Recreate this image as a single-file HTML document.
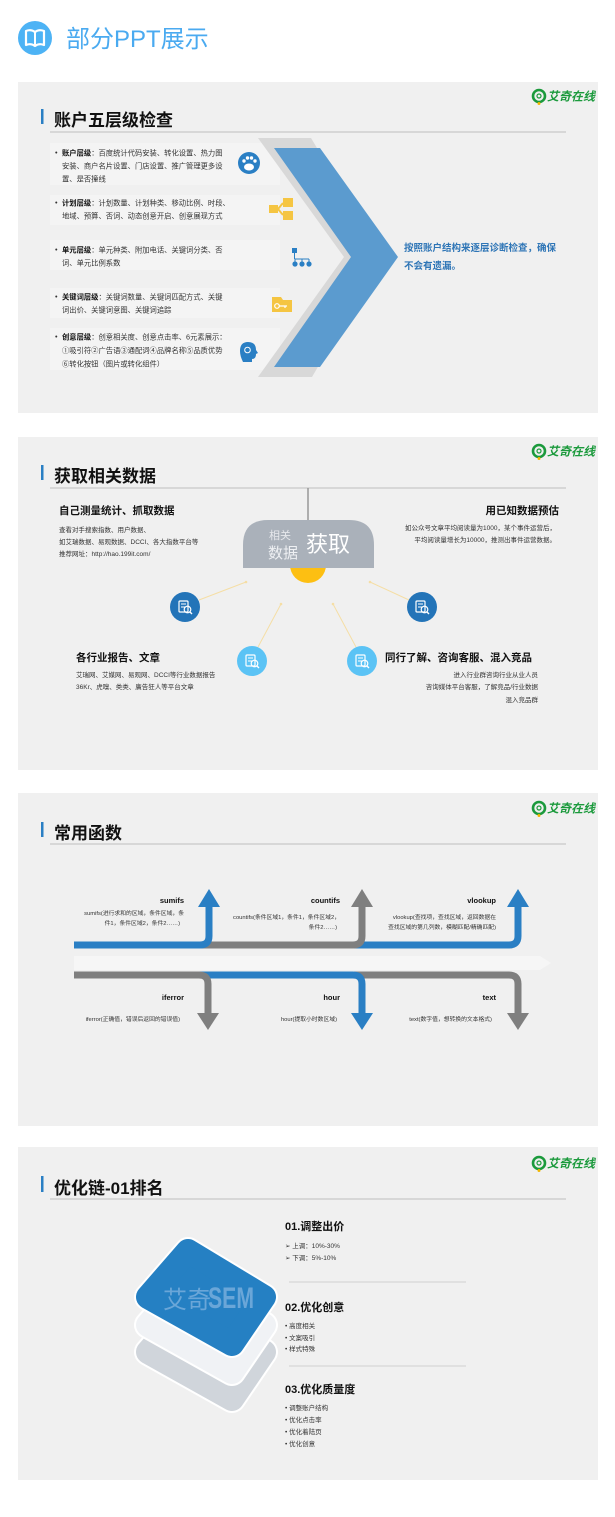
<!DOCTYPE html>
<html><head><meta charset="utf-8"><style>
html,body{margin:0;padding:0;background:#fff;}
svg{display:block;}
text{font-family:"Liberation Sans","Noto Sans CJK SC",sans-serif;}
</style></head><body>
<svg width="615" height="1517" viewBox="0 0 615 1517" xmlns="http://www.w3.org/2000/svg">
<defs>
<g id="logo">
<circle cx="0" cy="0" r="6" fill="none" stroke="#1b9a3c" stroke-width="2.6"/>
<circle cx="0" cy="0" r="2" fill="none" stroke="#1b9a3c" stroke-width="1.2"/>
<circle cx="0" cy="7.5" r="1.5" fill="#f2b600"/>
<text x="8" y="4.5" font-size="12" font-weight="bold" font-style="italic" fill="#1b9a3c">艾奇在线</text>
</g>
<g id="mag">
<rect x="-6" y="-6" width="9" height="11" rx="1" fill="none" stroke="#fff" stroke-width="1.2"/>
<line x1="-4" y1="-3" x2="1" y2="-3" stroke="#fff" stroke-width="1"/>
<line x1="-4" y1="0" x2="0" y2="0" stroke="#fff" stroke-width="1"/>
<circle cx="2.5" cy="2.5" r="3.3" fill="none" stroke="#fff" stroke-width="1.2"/>
<line x1="5" y1="5" x2="7" y2="7" stroke="#fff" stroke-width="1.4"/>
</g>
</defs>

<!-- header -->
<circle cx="35" cy="38" r="17" fill="#4db3f5"/>
<path d="M26,31 Q31,29 35,32 Q39,29 44,31 V45 Q39,43 35,46 Q31,43 26,45 Z" fill="none" stroke="#fff" stroke-width="2.2" stroke-linejoin="round"/>
<line x1="35" y1="32" x2="35" y2="45" stroke="#fff" stroke-width="2"/>
<text x="66" y="47" font-size="24" fill="#4aaaf0">部分PPT展示</text>

<!-- ============ SLIDE 1 ============ -->
<rect x="18" y="82" width="580" height="331" fill="#f0f0f0"/>
<use href="#logo" x="539" y="96"/>
<rect x="41" y="109" width="2.5" height="15" fill="#2a7fc4"/>
<text x="54" y="126" font-size="17" font-weight="bold" fill="#111">账户五层级检查</text>
<line x1="50" y1="132" x2="566" y2="132" stroke="#c8c8c8" stroke-width="1.3"/>
<g fill="#f4f4f4">
<rect x="50" y="143" width="230" height="42"/>
<rect x="50" y="195" width="230" height="30"/>
<rect x="50" y="240" width="230" height="30"/>
<rect x="50" y="288" width="230" height="30"/>
<rect x="50" y="328" width="230" height="42"/>
</g>
<g font-size="7.3" fill="#333">
<text x="55" y="155">•</text>
<text x="62" y="155.5"><tspan font-weight="bold" fill="#111">账户层级</tspan>：百度统计代码安装、转化设置、热力图</text>
<text x="62" y="168.5">安装、商户名片设置、门店设置、推广管理更多设</text>
<text x="62" y="181.5">置、是否撞线</text>
<text x="55" y="205">•</text>
<text x="62" y="205.5"><tspan font-weight="bold" fill="#111">计划层级</tspan>：计划数量、计划种类、移动比例、时段、</text>
<text x="62" y="218.5">地域、预算、否词、动态创意开启、创意展现方式</text>
<text x="55" y="252">•</text>
<text x="62" y="252.5"><tspan font-weight="bold" fill="#111">单元层级</tspan>：单元种类、附加电话、关键词分类、否</text>
<text x="62" y="265.5">词、单元比例系数</text>
<text x="55" y="299">•</text>
<text x="62" y="299.5"><tspan font-weight="bold" fill="#111">关键词层级</tspan>：关键词数量、关键词匹配方式、关键</text>
<text x="62" y="312.5">词出价、关键词意图、关键词追踪</text>
<text x="55" y="339">•</text>
<text x="62" y="339.5"><tspan font-weight="bold" fill="#111">创意层级</tspan>：创意相关度、创意点击率、6元素展示：</text>
<text x="62" y="353">①吸引符②广告语③通配词④品牌名称⑤品质优势</text>
<text x="62" y="366.5">⑥转化按钮（图片或转化组件）</text>
</g>
<!-- icons -->
<circle cx="249" cy="163" r="11" fill="#2a7fc4"/>
<ellipse cx="249" cy="167" rx="5" ry="3.5" fill="#fff"/>
<circle cx="244" cy="161" r="1.7" fill="#fff"/><circle cx="247.5" cy="158" r="1.7" fill="#fff"/><circle cx="251.5" cy="158" r="1.7" fill="#fff"/><circle cx="255" cy="161" r="1.7" fill="#fff"/>
<g fill="#f5c542">
<rect x="269" y="205" width="9" height="8"/><rect x="283" y="198" width="10" height="9"/><rect x="283" y="211" width="10" height="9"/>
</g>
<path d="M278,209 L283,203 M278,209 L283,215" stroke="#f5c542" stroke-width="2"/>
<g fill="#2a7fc4">
<rect x="292" y="248" width="5" height="5"/>
<circle cx="295" cy="264" r="2.6"/><circle cx="302" cy="264" r="2.6"/><circle cx="309" cy="264" r="2.6"/>
</g>
<path d="M294.5,253 V259 M295,259 H309 M295,259 V262 M302,259 V262 M309,259 V262" stroke="#2a7fc4" stroke-width="1" fill="none"/>
<path d="M272,297 H281 L283,300 H292 V312 H272 Z" fill="#f5c542"/>
<circle cx="277" cy="306" r="2.3" fill="none" stroke="#fff" stroke-width="1.2"/>
<path d="M279,306 H287 M285,306 V308" stroke="#fff" stroke-width="1.2"/>
<path d="M243,362 Q240,356 240,351 Q240,342 248,342 Q256,342 256,350 L258,353 L256,354 Q256,359 252,359 V362 Z" fill="#2a7fc4"/>
<circle cx="247.5" cy="350" r="2.8" fill="none" stroke="#fff" stroke-width="1"/>
<!-- chevron -->
<polygon points="258,138 311,138 382,257 312,377 258,377 344,257" fill="#d8d8d8"/>
<polygon points="274,148 320,148 398,257 320,367 274,367 351,257" fill="#5b9bcf"/>
<text x="404" y="251" font-size="9.5" font-weight="bold" fill="#2e75b6">按照账户结构来逐层诊断检查，确保</text>
<text x="404" y="269" font-size="9.5" font-weight="bold" fill="#2e75b6">不会有遗漏。</text>

<!-- ============ SLIDE 2 ============ -->
<rect x="18" y="437" width="580" height="333" fill="#f0f0f0"/>
<use href="#logo" x="539" y="451"/>
<rect x="41" y="465" width="2.5" height="15" fill="#2a7fc4"/>
<text x="54" y="482" font-size="17" font-weight="bold" fill="#111">获取相关数据</text>
<line x1="50" y1="488" x2="566" y2="488" stroke="#c8c8c8" stroke-width="1.3"/>
<line x1="308" y1="488" x2="308" y2="521" stroke="#999" stroke-width="1.5"/>
<circle cx="308" cy="565" r="18" fill="#fdbf12"/>
<path d="M243,568 V545 Q243,520 268,520 H349 Q374,520 374,545 V568 Z" fill="#aab1ba"/>
<text x="269" y="539" font-size="11" fill="#e6e8ec">相关</text>
<text x="268" y="558" font-size="15" fill="#eef0f3">数据</text>
<text x="306" y="552" font-size="22" fill="#fff">获取</text>
<g stroke="#f5dea5" stroke-width="1">
<line x1="199" y1="600" x2="246" y2="582"/><line x1="258" y1="647" x2="281" y2="604"/>
<line x1="356" y1="647" x2="333" y2="604"/><line x1="409" y1="600" x2="370" y2="582"/>
</g>
<g fill="#f5dea5"><circle cx="246" cy="582" r="1.3"/><circle cx="281" cy="604" r="1.3"/><circle cx="333" cy="604" r="1.3"/><circle cx="370" cy="582" r="1.3"/></g>
<circle cx="185" cy="607" r="15" fill="#2374b8"/><use href="#mag" x="185" y="607"/>
<circle cx="422" cy="607" r="15" fill="#2374b8"/><use href="#mag" x="422" y="607"/>
<circle cx="252" cy="661" r="15" fill="#5bc3f5"/><use href="#mag" x="252" y="661"/>
<circle cx="362" cy="661" r="15" fill="#5bc3f5"/><use href="#mag" x="362" y="661"/>
<text x="59" y="514" font-size="10.5" font-weight="bold" fill="#111">自己测量统计、抓取数据</text>
<g font-size="6.5" fill="#333">
<text x="59" y="532">查看对手搜索指数、用户数据、</text>
<text x="59" y="544">如艾瑞数据、易观数据、DCCI、各大指数平台等</text>
<text x="59" y="556">推荐网址：http://hao.199it.com/</text>
</g>
<text x="559" y="514" font-size="10.5" font-weight="bold" fill="#111" text-anchor="end">用已知数据预估</text>
<g font-size="6.5" fill="#333" text-anchor="end">
<text x="556" y="530">如公众号文章平均阅读量为1000，某个事件运营后，</text>
<text x="556" y="542">平均阅读量增长为10000，推测出事件运营数据。</text>
</g>
<text x="76" y="661" font-size="10.5" font-weight="bold" fill="#111">各行业报告、文章</text>
<g font-size="6.5" fill="#333">
<text x="76" y="677">艾瑞网、艾媒网、易观网、DCCI等行业数据报告</text>
<text x="76" y="689">36Kr、虎嗅、类类、廣告狂人等平台文章</text>
</g>
<text x="385" y="661" font-size="10.5" font-weight="bold" fill="#111">同行了解、咨询客服、混入竞品</text>
<g font-size="6.5" fill="#333" text-anchor="end">
<text x="538" y="677">进入行业群咨询行业从业人员</text>
<text x="538" y="689">咨询媒体平台客服，了解竞品/行业数据</text>
<text x="538" y="702">混入竞品群</text>
</g>

<!-- ============ SLIDE 3 ============ -->
<rect x="18" y="793" width="580" height="333" fill="#f0f0f0"/>
<use href="#logo" x="539" y="808"/>
<rect x="41" y="822" width="2.5" height="15" fill="#2a7fc4"/>
<text x="54" y="839" font-size="17" font-weight="bold" fill="#111">常用函数</text>
<line x1="50" y1="844" x2="566" y2="844" stroke="#c8c8c8" stroke-width="1.3"/>
<polygon points="74,956 540,956 551,963 540,970 74,970" fill="#f6f6f6"/>
<g fill="none" stroke-width="7">
<path d="M354,945 H509 Q518,945 518,936 V905" stroke="#2a7fc4"/>
<path d="M200,945 H353 Q362,945 362,936 V905" stroke="#7f7f7f"/>
<path d="M74,945 H200 Q209,945 209,936 V905" stroke="#2a7fc4"/>
<path d="M354,975 H509 Q518,975 518,984 V1015" stroke="#7f7f7f"/>
<path d="M199,975 H353 Q362,975 362,984 V1015" stroke="#2a7fc4"/>
<path d="M74,975 H199 Q208,975 208,984 V1015" stroke="#7f7f7f"/>
</g>
<polygon points="198,907 220,907 209,889" fill="#2a7fc4"/>
<polygon points="351,907 373,907 362,889" fill="#7f7f7f"/>
<polygon points="507,907 529,907 518,889" fill="#2a7fc4"/>
<polygon points="197,1013 219,1013 208,1030" fill="#7f7f7f"/>
<polygon points="351,1013 373,1013 362,1030" fill="#2a7fc4"/>
<polygon points="507,1013 529,1013 518,1030" fill="#7f7f7f"/>
<g font-size="7.5" font-weight="bold" fill="#111" text-anchor="end">
<text x="184" y="903">sumifs</text><text x="340" y="903">countifs</text><text x="496" y="903">vlookup</text>
<text x="184" y="1000">iferror</text><text x="340" y="1000">hour</text><text x="496" y="1000">text</text>
</g>
<g font-size="5.8" fill="#333" text-anchor="end">
<text x="184" y="915">sumifs(进行求和的区域，条件区域，条</text>
<text x="180" y="925">件1，条件区域2，条件2……)</text>
<text x="340" y="919">countifs(条件区域1，条件1，条件区域2，</text>
<text x="337" y="929">条件2……)</text>
<text x="496" y="919">vlookup(查找项，查找区域，返回数据在</text>
<text x="496" y="929">查找区域的第几列数，模糊匹配/精确匹配)</text>
<text x="180" y="1021">iferror(正确值，错误后返回的错误值)</text>
<text x="337" y="1021">hour(提取小时数区域)</text>
<text x="492" y="1021">text(数字值，想转换的文本格式)</text>
</g>

<!-- ============ SLIDE 4 ============ -->
<rect x="18" y="1147" width="580" height="333" fill="#f0f0f0"/>
<use href="#logo" x="539" y="1163"/>
<rect x="41" y="1176" width="2.5" height="16" fill="#2a7fc4"/>
<text x="54" y="1194" font-size="17" font-weight="bold" fill="#111">优化链-01排名</text>
<line x1="50" y1="1199" x2="566" y2="1199" stroke="#c8c8c8" stroke-width="1.3"/>
<g stroke-linejoin="round">
<polygon points="188,1306 264,1352 232,1399 148,1352" fill="#d0d5db" stroke="#fff" stroke-width="28"/>
<polygon points="188,1306 264,1352 232,1399 148,1352" fill="#d0d5db" stroke="#d0d5db" stroke-width="24"/>
<polygon points="188,1279 264,1325 232,1372 148,1325" fill="#f0f2f5" stroke="#fff" stroke-width="28"/>
<polygon points="188,1279 264,1325 232,1372 148,1325" fill="#f0f2f5" stroke="#f0f2f5" stroke-width="24"/>
<polygon points="188,1251 264,1297 232,1344 148,1297" fill="#2580c3" stroke="#fff" stroke-width="28"/>
<polygon points="188,1251 264,1297 232,1344 148,1297" fill="#2580c3" stroke="#2580c3" stroke-width="24"/>
</g>
<text x="163" y="1308" font-size="24" fill="#6aa6d8">艾奇</text>
<text x="208" y="1308" font-size="30" font-weight="bold" fill="#6aa6d8" textLength="46" lengthAdjust="spacingAndGlyphs">SEM</text>
<text x="285" y="1230" font-size="11" font-weight="bold" fill="#111">01.调整出价</text>
<g font-size="6.5" fill="#333">
<text x="285" y="1248">➢ 上调：10%-30%</text>
<text x="285" y="1260">➢ 下调：5%-10%</text>
</g>
<line x1="289" y1="1282" x2="466" y2="1282" stroke="#d0d0d0" stroke-width="1"/>
<text x="285" y="1311" font-size="11" font-weight="bold" fill="#111">02.优化创意</text>
<g font-size="6.5" fill="#333">
<text x="285" y="1328">•  高度相关</text>
<text x="285" y="1340">•  文案吸引</text>
<text x="285" y="1351">•  样式特殊</text>
</g>
<line x1="289" y1="1366" x2="466" y2="1366" stroke="#d0d0d0" stroke-width="1"/>
<text x="285" y="1393" font-size="11" font-weight="bold" fill="#111">03.优化质量度</text>
<g font-size="6.5" fill="#333">
<text x="285" y="1410">•  调整账户结构</text>
<text x="285" y="1422">•  优化点击率</text>
<text x="285" y="1434">•  优化着陆页</text>
<text x="285" y="1446">•  优化创意</text>
</g>
</svg>
</body></html>
